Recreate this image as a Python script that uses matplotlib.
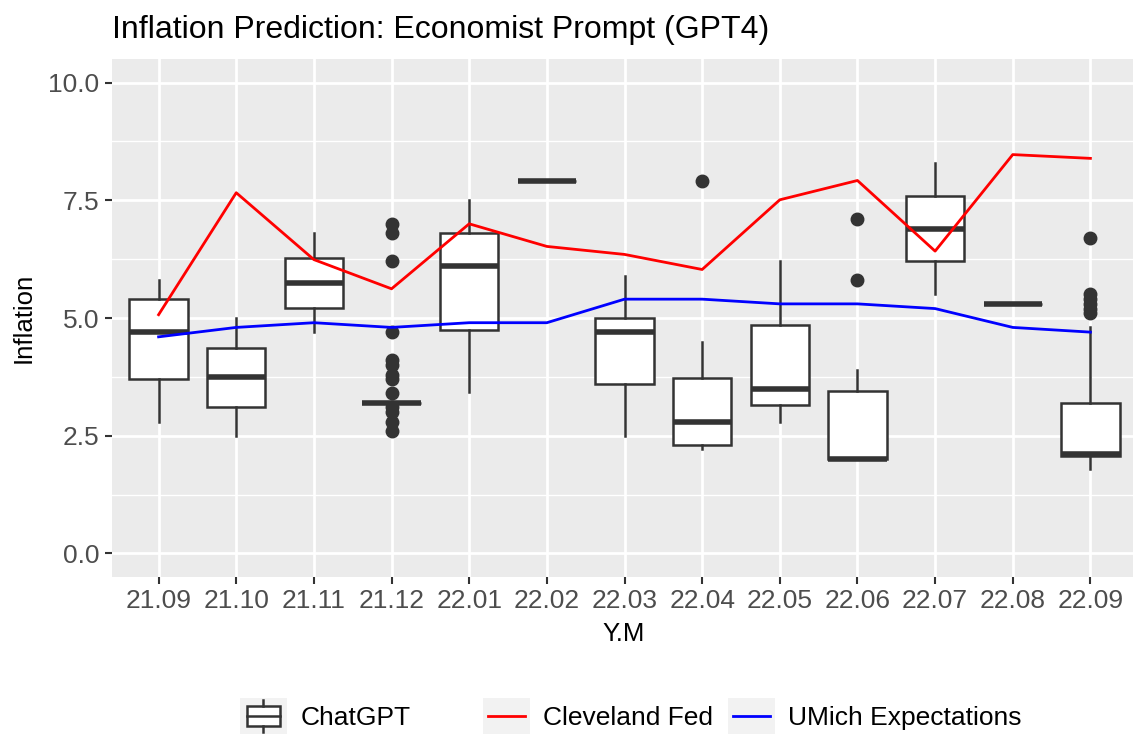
import matplotlib
matplotlib.use("Agg")
import matplotlib.pyplot as plt
from matplotlib.patches import Rectangle
from matplotlib.lines import Line2D
from matplotlib.legend_handler import HandlerBase
from matplotlib.ticker import FixedLocator, FormatStrFormatter

plt.rcParams['font.family'] = ['Liberation Sans', 'DejaVu Sans']

# data
months = ['21.09', '21.10', '21.11', '21.12', '22.01', '22.02', '22.03',
          '22.04', '22.05', '22.06', '22.07', '22.08', '22.09']
q1 = [3.7, 3.12, 5.22, 3.2, 4.75, 7.9, 3.6, 2.3, 3.15, 2.0, 6.2, 5.3, 2.08]
med = [4.7, 3.75, 5.75, 3.2, 6.1, 7.9, 4.7, 2.8, 3.5, 2.0, 6.9, 5.3, 2.12]
q3 = [5.4, 4.37, 6.28, 3.2, 6.8, 7.9, 5.0, 3.72, 4.86, 3.44, 7.6, 5.3, 3.2]
whislo = [2.8, 2.5, 4.7, 3.2, 3.42, 7.9, 2.5, 2.22, 2.8, 2.0, 5.5, 5.3, 1.8]
whishi = [5.8, 5.0, 6.8, 3.2, 7.5, 7.9, 5.9, 4.5, 6.2, 3.9, 8.3, 5.3, 4.8]
fliers = [[], [], [],
          [7.0, 6.8, 6.2, 4.7, 4.1, 4.0, 3.8, 3.7, 3.4, 3.1, 3.0, 2.8, 2.6],
          [], [], [], [7.9], [], [7.1, 5.8], [], [],
          [6.7, 5.5, 5.4, 5.3, 5.2, 5.1]]
cleveland = [5.07, 7.66, 6.24, 5.62, 7.0, 6.52, 6.35, 6.03, 7.51, 7.92, 6.42, 8.47, 8.39]
umich = [4.6, 4.8, 4.9, 4.8, 4.9, 4.9, 5.4, 5.4, 5.3, 5.3, 5.2, 4.8, 4.7]

W, H = 1133, 738
fig = plt.figure(figsize=(W / 100, H / 100), dpi=100)
ax = fig.add_axes([112 / W, 1 - 577 / H, (1137 - 112) / W, (577 - 59) / H])
ax.set_facecolor('#EBEBEB')
for s in ax.spines.values():
    s.set_visible(False)

pos = list(range(1, len(months) + 1))
stats = []
for i in range(len(months)):
    stats.append(dict(med=med[i], q1=q1[i], q3=q3[i], whislo=whislo[i],
                      whishi=whishi[i], fliers=fliers[i]))

dark = '#333333'
ax.bxp(stats, positions=pos, widths=0.75, patch_artist=True, showcaps=False,
       boxprops=dict(facecolor='white', edgecolor=dark, linewidth=1.8),
       medianprops=dict(color=dark, linewidth=4, solid_capstyle='butt'),
       whiskerprops=dict(color=dark, linewidth=1.8),
       flierprops=dict(marker='o', markerfacecolor=dark, markeredgecolor=dark,
                       markersize=9),
       zorder=2)

ax.plot(pos, cleveland, color='#FF0000', lw=2, zorder=3)
ax.plot(pos, umich, color='#0000FF', lw=2, zorder=3)

ax.set_xlim(0.4, 13.6)
ax.set_ylim(-0.5, 10.5)
ax.set_xticks(pos)
ax.set_xticklabels(months)
ax.yaxis.set_major_locator(FixedLocator([0, 2.5, 5, 7.5, 10]))
ax.yaxis.set_minor_locator(FixedLocator([1.25, 3.75, 6.25, 8.75]))
ax.yaxis.set_major_formatter(FormatStrFormatter('%.1f'))
ax.set_axisbelow(True)
ax.grid(True, which='major', color='white', lw=2)
ax.grid(True, which='minor', axis='y', color='white', lw=1)
ax.tick_params(which='major', length=5, width=1.5, color=dark,
               labelcolor='#4D4D4D', labelsize=19, pad=4)
ax.tick_params(which='minor', length=0)

fig.text(112 / W, 1 - 38 / H, 'Inflation Prediction: Economist Prompt (GPT4)',
         fontsize=23, ha='left', va='baseline')
fig.text(624 / W, 1 - 634 / H, 'Y.M', fontsize=18.5, ha='center', va='center')
fig.text(24 / W, 1 - 318 / H, 'Inflation', fontsize=18.5, rotation=90,
         ha='center', va='center')


class BoxKey(HandlerBase):
    def create_artists(self, legend, orig_handle, xdescent, ydescent,
                       width, height, fontsize, trans):
        x0, y0 = -xdescent, -ydescent
        bg = Rectangle((x0, y0), width, height, facecolor='#F2F2F2',
                       edgecolor='none', transform=trans)
        bx = Rectangle((x0 + 0.15 * width, y0 + 0.22 * height), 0.7 * width,
                       0.56 * height, facecolor='white', edgecolor=dark,
                       lw=1.8, transform=trans)
        cx = x0 + width / 2
        m = Line2D([x0 + 0.15 * width, x0 + 0.85 * width],
                   [y0 + height / 2] * 2, color=dark, lw=1.8, transform=trans)
        w1 = Line2D([cx, cx], [y0 + 0.05 * height, y0 + 0.22 * height],
                    color=dark, lw=1.8, transform=trans)
        w2 = Line2D([cx, cx], [y0 + 0.78 * height, y0 + 0.95 * height],
                    color=dark, lw=1.8, transform=trans)
        return [bg, bx, m, w1, w2]


class LineKey(HandlerBase):
    def create_artists(self, legend, orig_handle, xdescent, ydescent,
                       width, height, fontsize, trans):
        x0, y0 = -xdescent, -ydescent
        bg = Rectangle((x0, y0), width, height, facecolor='#F2F2F2',
                       edgecolor='none', transform=trans)
        ln = Line2D([x0 + 0.1 * width, x0 + 0.9 * width], [y0 + height / 2] * 2,
                    color=orig_handle.get_color(), lw=2, transform=trans)
        return [bg, ln]


box_h = Rectangle((0, 0), 1, 1)
red_h = Line2D([], [], color='#FF0000')
blue_h = Line2D([], [], color='#0000FF')
fs = 19
common = dict(frameon=False, borderpad=0, borderaxespad=0, fontsize=fs,
              handlelength=1.78, handleheight=1.67, handletextpad=0.5,
              loc='center left')
fig.legend([box_h], ['ChatGPT'], bbox_to_anchor=(240 / W, 1 - 716 / H),
           handler_map={Rectangle: BoxKey()}, **common)
fig.legend([red_h, blue_h], ['Cleveland Fed', 'UMich Expectations'], ncol=2,
           columnspacing=0.57, bbox_to_anchor=(483 / W, 1 - 716 / H),
           handler_map={Line2D: LineKey()}, **common)

fig.savefig('out.png', dpi=100)
